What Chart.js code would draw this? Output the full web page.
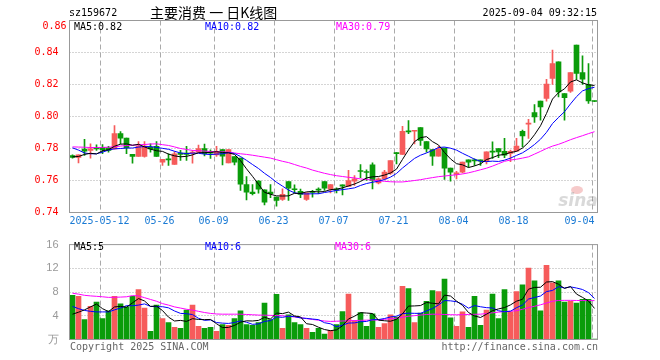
<!DOCTYPE html>
<html>
<head>
<meta charset="utf-8">
<script src="https://cdn.jsdelivr.net/npm/chart.js@4.4.1/dist/chart.umd.min.js"></script>
<style>
body { margin: 0; background: #fff; }
#wrap { position: relative; width: 660px; height: 360px; }
canvas { position: absolute; left: 0; }
</style>
</head>
<body>
<div id="wrap">
  <canvas id="kline" width="660" height="235" style="top:0"></canvas>
  <canvas id="vol" width="660" height="125" style="top:235px"></canvas>
</div>
<script>
var code = 'sz159672';
var title = '主要消费 一 日K线图';
var stamp = '2025-09-04 09:32:15';

var dates = ['2025-04-30','2025-05-06','2025-05-07','2025-05-08','2025-05-09','2025-05-12','2025-05-13','2025-05-14','2025-05-15','2025-05-16',
  '2025-05-19','2025-05-20','2025-05-21','2025-05-22','2025-05-23','2025-05-26','2025-05-27','2025-05-28','2025-05-29','2025-05-30',
  '2025-06-03','2025-06-04','2025-06-05','2025-06-06','2025-06-09','2025-06-10','2025-06-11','2025-06-12','2025-06-13','2025-06-16',
  '2025-06-17','2025-06-18','2025-06-19','2025-06-20','2025-06-23','2025-06-24','2025-06-25','2025-06-26','2025-06-27','2025-06-30',
  '2025-07-01','2025-07-02','2025-07-03','2025-07-04','2025-07-07','2025-07-08','2025-07-09','2025-07-10','2025-07-11','2025-07-14',
  '2025-07-15','2025-07-16','2025-07-17','2025-07-18','2025-07-21','2025-07-22','2025-07-23','2025-07-24','2025-07-25','2025-07-28',
  '2025-07-29','2025-07-30','2025-07-31','2025-08-01','2025-08-04','2025-08-05','2025-08-06','2025-08-07','2025-08-08','2025-08-11',
  '2025-08-12','2025-08-13','2025-08-14','2025-08-15','2025-08-18','2025-08-19','2025-08-20','2025-08-21','2025-08-22','2025-08-25',
  '2025-08-26','2025-08-27','2025-08-28','2025-08-29','2025-09-01','2025-09-02','2025-09-03','2025-09-04'];

var gridDates = ['2025-05-12','2025-05-26','2025-06-09','2025-06-23','2025-07-07','2025-07-21','2025-08-04','2025-08-18','2025-09-04'];

var opens = [.7756,.7744,.7796,.7788,.7808,.7808,.7804,.7798,.7894,.7865,
  .7763,.7750,.7750,.7808,.7813,.7715,.7733,.7700,.7771,.7771,
  .7771,.7777,.7800,.7775,.7760,.7794,.7710,.7750,.7740,.7575,
  .7527,.7596,.7542,.7527,.7496,.7481,.7594,.7546,.7533,.7481,
  .7529,.7544,.7594,.7546,.7544,.7573,.7563,.7596,.7660,.7654,
  .7698,.7585,.7610,.7646,.7775,.7763,.7908,.7908,.7931,.7844,
  .7794,.7752,.7802,.7677,.7638,.7652,.7729,.7727,.7729,.7721,
  .7781,.7800,.7783,.7769,.7783,.7908,.7952,.8025,.8096,.8113,
  .8238,.8342,.8144,.8158,.8446,.8275,.8200,.8098];
var highs = [.7760,.7760,.7858,.7829,.7823,.7825,.7813,.7944,.7906,.7865,
  .7763,.7844,.7844,.7829,.7844,.7733,.7767,.7780,.7788,.7813,
  .7788,.7821,.7827,.7792,.7813,.7794,.7794,.7750,.7740,.7625,
  .7575,.7600,.7542,.7575,.7496,.7548,.7594,.7573,.7546,.7523,
  .7538,.7554,.7594,.7575,.7554,.7573,.7663,.7631,.7700,.7667,
  .7710,.7617,.7663,.7725,.7775,.7938,.7975,.7910,.7931,.7844,
  .7794,.7813,.7802,.7677,.7658,.7715,.7729,.7735,.7729,.7779,
  .7842,.7800,.7863,.7790,.7863,.7915,.7983,.8075,.8096,.8233,
  .8415,.8342,.8144,.8275,.8446,.8379,.8331,.8098];
var lows = [.7740,.7710,.7756,.7740,.7788,.7767,.7777,.7796,.7829,.7767,
  .7708,.7750,.7746,.7777,.7750,.7694,.7694,.7700,.7725,.7725,
  .7708,.7777,.7754,.7738,.7750,.7698,.7710,.7698,.7538,.7479,
  .7510,.7521,.7448,.7492,.7440,.7475,.7475,.7523,.7492,.7475,
  .7496,.7517,.7538,.7523,.7523,.7510,.7563,.7569,.7617,.7600,
  .7548,.7579,.7606,.7638,.7704,.7763,.7892,.7829,.7819,.7777,
  .7694,.7752,.7606,.7596,.7610,.7648,.7683,.7694,.7694,.7704,
  .7738,.7742,.7742,.7717,.7783,.7810,.7863,.7963,.7977,.8096,
  .8200,.8123,.7977,.8150,.8231,.8200,.8081,.8092];
var closes = [.7744,.7760,.7783,.7798,.7798,.7792,.7788,.7894,.7865,.7804,
  .7750,.7815,.7815,.7798,.7750,.7733,.7729,.7767,.7763,.7763,
  .7777,.7800,.7767,.7771,.7783,.7752,.7794,.7715,.7577,.7527,
  .7517,.7546,.7465,.7517,.7475,.7513,.7552,.7542,.7513,.7523,
  .7525,.7540,.7552,.7575,.7540,.7565,.7600,.7610,.7656,.7650,
  .7600,.7610,.7652,.7725,.7767,.7908,.7904,.7910,.7850,.7798,
  .7752,.7798,.7677,.7652,.7648,.7715,.7715,.7723,.7721,.7779,
  .7777,.7779,.7758,.7783,.7815,.7879,.7956,.7998,.8060,.8202,
  .8331,.8154,.8117,.8275,.8269,.8233,.8098,.8094];

var ma5 = [.7748,.7750,.7763,.7770,.7766,.7786,.7792,.7814,.7827,.7829,
  .7820,.7826,.7810,.7796,.7786,.7782,.7765,.7754,.7748,.7751,
  .7760,.7774,.7774,.7776,.7780,.7775,.7773,.7763,.7724,.7673,
  .7626,.7576,.7526,.7514,.7504,.7503,.7504,.7520,.7519,.7529,
  .7531,.7529,.7531,.7543,.7546,.7554,.7566,.7578,.7594,.7616,
  .7623,.7625,.7634,.7647,.7671,.7732,.7791,.7843,.7868,.7874,
  .7843,.7822,.7775,.7735,.7705,.7698,.7681,.7691,.7704,.7731,
  .7743,.7758,.7763,.7775,.7782,.7803,.7838,.7886,.7942,.8019,
  .8109,.8149,.8173,.8216,.8229,.8210,.8198,.8194];
var ma10 = [.7804,.7790,.7772,.7767,.7767,.7777,.7790,.7798,.7800,.7803,
  .7803,.7809,.7812,.7812,.7807,.7801,.7795,.7783,.7772,.7768,
  .7771,.7770,.7765,.7762,.7765,.7767,.7774,.7769,.7750,.7726,
  .7700,.7675,.7645,.7619,.7589,.7565,.7540,.7523,.7517,.7516,
  .7517,.7517,.7525,.7531,.7538,.7543,.7548,.7554,.7569,.7581,
  .7589,.7596,.7606,.7621,.7644,.7678,.7708,.7738,.7758,.7772,
  .7788,.7806,.7809,.7802,.7790,.7770,.7752,.7733,.7720,.7718,
  .7721,.7719,.7727,.7740,.7757,.7773,.7797,.7825,.7858,.7901,
  .7956,.7994,.8030,.8079,.8124,.8160,.8174,.8183];
var ma30 = [.7810,.7809,.7808,.7806,.7806,.7807,.7808,.7811,.7815,.7819,
  .7821,.7823,.7825,.7828,.7829,.7824,.7819,.7810,.7800,.7794,
  .7788,.7786,.7784,.7781,.7780,.7779,.7777,.7772,.7767,.7763,
  .7758,.7752,.7746,.7740,.7730,.7720,.7712,.7700,.7688,.7678,
  .7665,.7655,.7645,.7637,.7630,.7625,.7620,.7616,.7610,.7606,
  .7603,.7598,.7595,.7592,.7591,.7591,.7595,.7600,.7605,.7612,
  .7618,.7624,.7628,.7632,.7636,.7641,.7648,.7657,.7667,.7677,
  .7690,.7705,.7720,.7728,.7733,.7740,.7748,.7765,.7782,.7800,
  .7815,.7826,.7840,.7855,.7868,.7880,.7893,.7905];

var volumes = [7.43,7.27,3.35,5.58,6.29,3.51,4.82,7.27,6.01,5.52,
  7.27,8.41,5.31,1.39,5.80,3.51,2.86,2.04,1.88,4.98,
  5.80,2.20,1.88,2.04,1.39,2.53,2.37,3.51,4.82,2.53,
  2.37,2.86,6.12,3.35,7.60,1.88,4.16,2.86,2.53,1.88,
  1.22,1.88,0.90,1.55,2.53,4.71,7.65,3.18,4.54,2.20,
  4.33,2.04,2.69,4.16,3.78,8.95,8.57,2.86,4.44,6.45,
  8.24,8.08,10.20,3.67,2.20,4.65,2.04,7.27,2.37,4.98,
  7.65,3.51,8.41,4.65,8.08,9.23,12.05,9.88,4.82,12.49,
  9.55,9.88,6.29,6.45,6.12,6.78,6.78,0.08];
var vma5 = [4.27,4.60,5.00,5.50,5.98,5.20,4.71,5.49,5.58,5.43,
  6.18,6.90,6.50,5.58,5.64,4.88,3.77,3.12,3.22,3.05,
  3.51,3.38,3.35,3.38,2.66,2.01,2.04,2.37,2.92,3.15,
  3.12,3.22,3.74,3.45,4.46,4.36,4.62,3.97,3.81,2.66,
  2.53,2.07,1.68,1.49,1.62,2.31,3.47,3.92,4.52,4.46,
  4.38,3.26,3.16,3.08,3.40,4.32,5.63,5.66,5.72,6.25,
  6.11,6.01,7.48,7.33,6.48,5.76,4.55,3.97,3.71,4.26,
  4.86,5.16,5.38,5.84,6.46,6.78,8.48,8.78,8.81,9.69,
  9.76,9.32,8.61,8.93,7.66,7.10,6.48,5.24];
var vma10 = [5.58,5.20,4.90,4.75,4.65,4.65,4.65,5.00,5.30,5.71,
  5.69,5.80,6.00,5.58,5.53,5.53,5.34,4.81,4.40,4.35,
  4.20,3.58,3.23,3.30,2.86,2.76,2.71,2.86,3.15,2.91,
  2.56,2.63,3.05,3.19,3.81,3.74,3.92,3.86,3.63,3.56,
  3.45,3.35,2.83,2.65,2.14,2.42,2.77,2.80,3.00,3.04,
  3.35,3.36,3.54,3.80,3.93,4.35,4.44,4.41,4.40,4.83,
  5.22,5.82,6.57,6.52,6.37,5.94,5.28,5.72,5.52,5.37,
  5.31,4.85,4.68,4.77,5.36,5.82,6.82,7.08,7.33,8.08,
  8.27,8.90,8.69,8.87,8.68,8.43,7.90,6.92];
var vma30 = [7.80,7.65,7.45,7.35,7.28,7.20,7.10,7.12,7.15,7.20,
  7.40,7.35,7.05,6.75,6.45,6.05,5.80,5.50,5.30,5.10,
  4.95,4.75,4.55,4.40,4.30,4.27,4.27,4.27,4.27,4.22,
  4.17,4.12,4.10,4.07,4.04,4.00,3.90,3.80,3.68,3.52,
  3.38,3.25,3.12,3.05,3.08,3.12,3.16,3.20,3.23,3.26,
  3.28,3.30,3.40,3.50,3.60,3.75,3.92,4.02,4.12,4.22,
  4.27,4.25,4.22,4.18,4.16,4.18,4.22,4.25,4.27,4.38,
  4.50,4.62,4.70,4.77,4.85,5.10,5.38,5.60,5.85,6.15,
  6.45,6.58,6.60,6.60,6.58,6.56,6.56,6.56];

var upColor = '#f65b5b', downColor = '#0a9c0a';
var mono = 'DejaVu Sans Mono';
var gridColor = '#aaaaaa';

var candleColors = closes.map(function (c, i) { return c >= opens[i] ? upColor : downColor; });
var gridIdx = gridDates.map(function (d) { return dates.indexOf(d); });

function xLabel(i) {
    var k = gridDates.indexOf(dates[i]);
    if (k < 0) return '';
    if (k == 0) return dates[i];
    if (k == gridDates.length - 1) return dates[i].slice(5) + '    ';
    return dates[i].slice(5);
}

// dashed date lines + dotted value lines, placed from the chart's own scales
var grids = {
    id: 'grids',
    beforeDatasetsDraw: function (chart) {
        var a = chart.chartArea, c = chart.ctx, xs = chart.scales.x, ys = chart.scales.y;
        var half = (xs.getPixelForValue(1) - xs.getPixelForValue(0)) / 2;
        c.save();
        c.strokeStyle = gridColor;
        c.lineWidth = 1;
        c.setLineDash([5, 3]);
        gridIdx.forEach(function (i) {
            var px = Math.round(xs.getPixelForValue(i) - half) + 0.5;
            c.beginPath();
            c.moveTo(px, a.top);
            c.lineTo(px, a.bottom);
            c.stroke();
        });
        c.setLineDash([1, 2]);
        ys.ticks.forEach(function (t) {
            var py = Math.floor(ys.getPixelForValue(t.value)) + 0.5;
            if (py <= a.top + 1 || py >= a.bottom - 1) return;
            c.beginPath();
            c.moveTo(a.left, py);
            c.lineTo(a.right, py);
            c.stroke();
        });
        c.restore();
    }
};

var frame = {
    id: 'frame',
    afterDraw: function (chart) {
        var a = chart.chartArea, c = chart.ctx;
        c.save();
        c.strokeStyle = '#999';
        c.lineWidth = 1;
        c.strokeRect(a.left, a.top, a.right - a.left, a.bottom - a.top);
        c.restore();
    }
};

var kText = {
    id: 'kText',
    afterDraw: function (chart) {
        var c = chart.ctx, n = dates.length - 1, ys = chart.scales.y;
        c.save();
        c.textBaseline = 'middle';
        c.fillStyle = '#000';
        c.font = '10px "' + mono + '"';
        c.textAlign = 'left';
        c.fillText(code, 69, 13);
        c.textAlign = 'right';
        c.fillText(stamp, 597, 13);
        // top value label sits just under the frame line
        c.fillStyle = '#ff0000';
        c.fillText(ys.max.toFixed(2), 66.5, 26);
        c.textAlign = 'left';
        c.fillStyle = '#000';
        c.font = '14px "Noto Sans CJK SC"';
        c.fillText(title, 150, 13);
        c.font = '10px "' + mono + '"';
        c.fillStyle = '#000';
        c.fillText('MA5:' + ma5[n].toFixed(2), 74, 27);
        c.fillStyle = '#0000ff';
        c.fillText('MA10:' + ma10[n].toFixed(2), 205, 27);
        c.fillStyle = '#ff00ff';
        c.fillText('MA30:' + ma30[n].toFixed(2), 336, 27);
        // sina watermark
        c.globalAlpha = 0.3;
        c.fillStyle = '#e05050';
        c.beginPath();
        c.ellipse(577, 190, 6, 4, 0, 0, Math.PI * 2);
        c.fill();
        c.fillStyle = '#808080';
        c.font = 'italic bold 17px "DejaVu Sans"';
        c.textAlign = 'center';
        c.fillText('sina', 578, 202);
        c.restore();
    }
};

var vText = {
    id: 'vText',
    afterDraw: function (chart) {
        var c = chart.ctx, n = dates.length - 1;
        c.save();
        c.textBaseline = 'middle';
        c.font = '10px "' + mono + '"';
        c.textAlign = 'left';
        c.fillStyle = '#000';
        c.fillText('MA5:' + Math.floor(vma5[n]), 74, 12);
        c.fillStyle = '#0000ff';
        c.fillText('MA10:' + Math.floor(vma10[n]), 205, 12);
        c.fillStyle = '#ff00ff';
        c.fillText('MA30:' + Math.floor(vma30[n]), 335, 12);
        c.fillStyle = '#666';
        c.fillText('Copyright 2025 SINA.COM', 70, 112);
        c.textAlign = 'right';
        c.fillText('http://finance.sina.com.cn', 598, 112);
        c.restore();
    }
};

function lineSet(label, data, color) {
    return { type: 'line', label: label, data: data, borderColor: color, borderWidth: 1,
        pointRadius: 0, fill: false, tension: 0, order: 0 };
}

new Chart(document.getElementById('kline'), {
    type: 'bar',
    data: {
        labels: dates,
        datasets: [
            lineSet('MA5', ma5, '#000000'),
            lineSet('MA10', ma10, '#0000ff'),
            lineSet('MA30', ma30, '#ff00ff'),
            { label: 'wick', data: lows.map(function (l, i) { return [l, highs[i]]; }),
              backgroundColor: candleColors, barThickness: 1, grouped: false, order: 2 },
            { label: 'body', data: opens.map(function (o, i) { return [o, closes[i]]; }),
              backgroundColor: candleColors, barThickness: 5, minBarLength: 1, grouped: false, order: 1 }
        ]
    },
    options: {
        responsive: false, animation: false, devicePixelRatio: 1,
        layout: { padding: { top: 20.5, right: 62.5, left: 0, bottom: 0 } },
        plugins: { legend: { display: false }, tooltip: { enabled: false } },
        scales: {
            x: {
                offset: true,
                grid: { display: false },
                border: { display: false },
                ticks: { autoSkip: false, maxRotation: 0, minRotation: 0, color: '#1a7ad4',
                    font: { family: mono, size: 10 }, padding: -5, labelOffset: -3,
                    callback: function (v, i) { return xLabel(i); } },
                afterFit: function (s) { s.height = 22.5; }
            },
            y: {
                min: 0.74, max: 0.86,
                grid: { display: false },
                border: { display: false },
                ticks: { stepSize: 0.02, color: '#ff0000', font: { family: mono, size: 10 }, padding: 3,
                    callback: function (v) { return v >= 0.859 ? '' : Number(v).toFixed(2); } },
                afterFit: function (s) { s.width = 69.5; }
            }
        }
    },
    plugins: [grids, frame, kText]
});

new Chart(document.getElementById('vol'), {
    type: 'bar',
    data: {
        labels: dates,
        datasets: [
            lineSet('MA5', vma5, '#000000'),
            lineSet('MA10', vma10, '#0000ff'),
            lineSet('MA30', vma30, '#ff00ff'),
            { label: 'vol', data: volumes, backgroundColor: candleColors, barThickness: 5, grouped: false, order: 1 }
        ]
    },
    options: {
        responsive: false, animation: false, devicePixelRatio: 1,
        layout: { padding: { top: 6.5, right: 62.5, left: 0, bottom: 20.5 } },
        plugins: { legend: { display: false }, tooltip: { enabled: false } },
        scales: {
            x: {
                offset: true,
                grid: { display: false },
                border: { display: false },
                ticks: { display: false },
                afterFit: function (s) { s.height = 0; }
            },
            y: {
                min: 0, max: 16,
                grid: { display: false },
                border: { display: false },
                ticks: { stepSize: 4, color: '#999', font: { family: 'Liberation Sans', size: 11 }, padding: 3,
                    callback: function (v) { return v == 0 ? '万' : v; } },
                afterFit: function (s) { s.width = 69.5; }
            }
        }
    },
    plugins: [grids, frame, vText]
});
</script>
</body>
</html>
